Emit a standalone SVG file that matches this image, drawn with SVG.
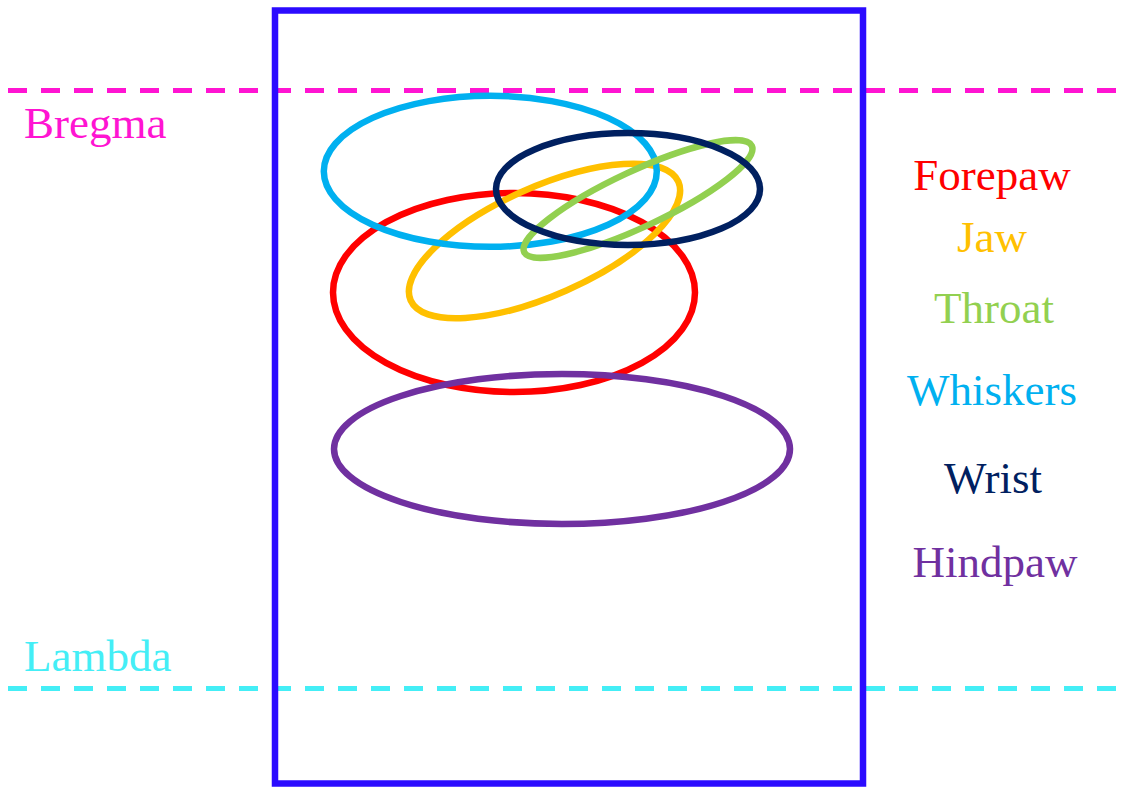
<svg xmlns="http://www.w3.org/2000/svg" width="1123" height="788" viewBox="0 0 1123 788">
<style>
text{font-family:"Liberation Serif","Times New Roman",serif;font-size:45px}
.lbl{text-anchor:middle}
.ring{fill:none;stroke-width:6.5}
.dash{fill:none;stroke-width:5;stroke-dasharray:19 14}
</style>
<rect width="1123" height="788" fill="#fff"/>
<g id="bregma">
<line class="dash" x1="8" y1="90.5" x2="1118" y2="90.5" stroke="#FF14D2"/>
<text x="24" y="138" fill="#FF14D2">Bregma</text>
</g>
<g id="lambda">
<line class="dash" x1="8" y1="688.5" x2="1118" y2="688.5" stroke="#44EEF6"/>
<text x="24" y="671" fill="#44EEF6">Lambda</text>
</g>
<g id="cortex">
<rect x="275" y="10.5" width="588" height="773" fill="none" stroke="#2B0BFF" stroke-width="6.5"/>
</g>
<g id="forepaw-area"><ellipse class="ring" cx="514" cy="292.5" rx="181" ry="99.5" stroke="#FF0000"/></g>
<g id="hindpaw-area"><ellipse class="ring" cx="562" cy="449" rx="228" ry="75" stroke="#7030A0"/></g>
<g id="jaw-area"><ellipse class="ring" cx="544.5" cy="241" rx="146.4" ry="54.1" transform="rotate(-23.9 544.5 241)" stroke="#FFC000"/></g>
<g id="whiskers-area"><ellipse class="ring" cx="490.3" cy="171.3" rx="166.5" ry="75.5" stroke="#00B0F0"/></g>
<g id="throat-area"><ellipse class="ring" cx="638" cy="199" rx="125.6" ry="28" transform="rotate(-25 638 199)" stroke="#92D050"/></g>
<g id="wrist-area"><ellipse class="ring" cx="628" cy="189" rx="132" ry="56" stroke="#002060"/></g>
<g id="legend">
<text class="lbl" x="992" y="190" fill="#FF0000">Forepaw</text>
<text class="lbl" x="992" y="252" fill="#FFC000">Jaw</text>
<text class="lbl" x="994" y="323" fill="#92D050">Throat</text>
<text class="lbl" x="992" y="405" fill="#00B0F0">Whiskers</text>
<text class="lbl" x="993" y="493" fill="#002060">Wrist</text>
<text class="lbl" x="995" y="577" fill="#7030A0">Hindpaw</text>
</g>
<g id="connectors"/>
</svg>
